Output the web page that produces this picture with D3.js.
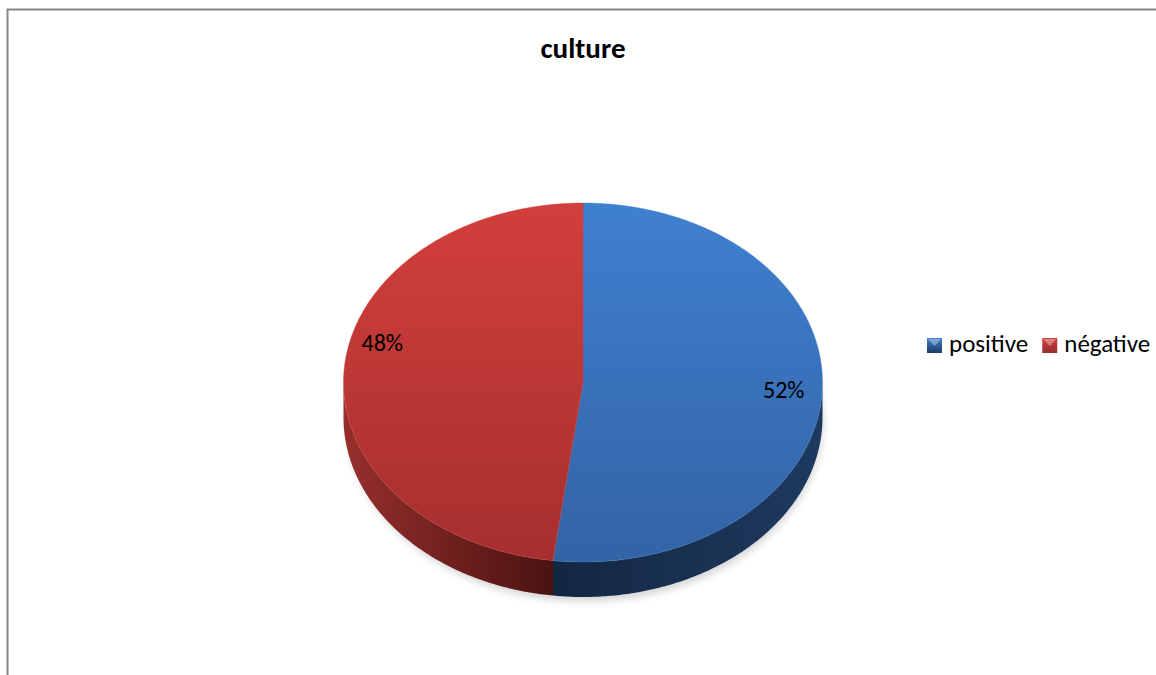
<!DOCTYPE html>
<html>
<head>
<meta charset="utf-8">
<script src="https://cdn.jsdelivr.net/npm/d3@7/dist/d3.min.js"></script>
<style>
  html, body { margin: 0; padding: 0; background: #ffffff; }
  svg { display: block; }
</style>
</head>
<body>
<svg id="chart" width="1156" height="675"></svg>
<script>
// Chart data
const title = "culture";
const categories = ["positive", "négative"];
const values = [52, 48];
const labels = ["52%", "48%"];

const W = 1156, H = 675;
const FONT = "Carlito, Calibri, Lato, 'Open Sans', sans-serif";
const svg = d3.select("#chart");
const defs = svg.append("defs");

// Outer chart frame
svg.append("rect")
  .attr("x", 7.5).attr("y", 9.5)
  .attr("width", W + 20).attr("height", H + 20)
  .attr("fill", "#fff").attr("stroke", "#868686").attr("stroke-width", 2);

// Title
svg.append("text")
  .attr("x", 583).attr("y", 58)
  .attr("text-anchor", "middle")
  .attr("font-family", FONT)
  .attr("font-weight", "bold")
  .attr("font-size", 29)
  .attr("fill", "#000")
  .text(title);

// Pie geometry (elliptical projection of a tilted disc)
const cx = 583, cy = 382.5, rx = 239.5, ry = 179.5, depth = 35;

const topColors = d3.scaleOrdinal().domain(categories).range([["#3f80d0", "#3363a5"], ["#d23f3c", "#a52f2e"]]);
const sideColors = d3.scaleOrdinal().domain(categories).range([["#1e3a60", "#132640"], ["#972f2c", "#4a1311"]]);

const pie = d3.pie().sort(null).startAngle(0).endAngle(2 * Math.PI);
const arcs = pie(values).map((d, i) => Object.assign(d, { cat: categories[i], label: labels[i] }));

const px = a => cx + rx * Math.sin(a);
const py = a => cy - ry * Math.cos(a);

// Gradients
arcs.forEach((d, i) => {
  const tg = defs.append("linearGradient").attr("id", "top" + i)
    .attr("gradientUnits", "userSpaceOnUse")
    .attr("x1", 0).attr("y1", cy - ry).attr("x2", 0).attr("y2", cy + ry);
  tg.append("stop").attr("offset", 0).attr("stop-color", topColors(d.cat)[0]);
  tg.append("stop").attr("offset", 1).attr("stop-color", topColors(d.cat)[1]);

  const sg = defs.append("linearGradient").attr("id", "side" + i)
    .attr("gradientUnits", "userSpaceOnUse");
  if (i === 0) {
    sg.attr("x1", cx + rx).attr("y1", 0).attr("x2", cx - 40).attr("y2", 0);
  } else {
    sg.attr("x1", cx - rx).attr("y1", 0).attr("x2", cx - 30).attr("y2", 0);
  }
  sg.append("stop").attr("offset", 0).attr("stop-color", sideColors(d.cat)[0]);
  sg.append("stop").attr("offset", 1).attr("stop-color", sideColors(d.cat)[1]);
});

// Soft shadow under the disc
const blur = defs.append("filter").attr("id", "shadow")
  .attr("x", "-20%").attr("y", "-20%").attr("width", "140%").attr("height", "140%");
blur.append("feGaussianBlur").attr("stdDeviation", 4);
svg.append("ellipse")
  .attr("cx", cx + 2).attr("cy", cy + depth + 4)
  .attr("rx", rx - 2).attr("ry", ry)
  .attr("fill", "#000").attr("opacity", 0.18)
  .attr("filter", "url(#shadow)");

function arcPoints(a0, a1, dy) {
  const n = Math.max(2, Math.ceil(Math.abs(a1 - a0) / 0.01));
  return d3.range(n + 1).map(k => {
    const a = a0 + (a1 - a0) * k / n;
    return [px(a), py(a) + dy];
  });
}

// Side walls (only the front half of the disc is visible)
const frontStart = Math.PI / 2, frontEnd = 3 * Math.PI / 2;
arcs.forEach((d, i) => {
  const a0 = Math.max(d.startAngle, frontStart);
  const a1 = Math.min(d.endAngle, frontEnd);
  if (a1 <= a0) return;
  const pts = arcPoints(a0, a1, 0).concat(arcPoints(a1, a0, depth));
  svg.append("path")
    .attr("d", d3.line()(pts) + "Z")
    .attr("fill", `url(#side${i})`);
});

// Top faces
arcs.forEach((d, i) => {
  const pts = [[cx, cy]].concat(arcPoints(d.startAngle, d.endAngle, 0));
  svg.append("path")
    .attr("d", d3.line()(pts) + "Z")
    .attr("fill", `url(#top${i})`)
    .attr("stroke", topColors(d.cat)[0])
    .attr("stroke-opacity", 0.5)
    .attr("stroke-width", 0.8);
});

// Percentage labels
arcs.forEach(d => {
  const mid = (d.startAngle + d.endAngle) / 2;
  const k = 0.84;
  const x = cx + rx * k * Math.sin(mid);
  let y = cy - ry * k * Math.cos(mid);
  if (Math.sin(mid) < 0) y -= 28;
  svg.append("text")
    .attr("x", x).attr("y", y + 6)
    .attr("text-anchor", "middle")
    .attr("font-family", FONT)
    .attr("font-size", 24)
    .attr("fill", "#000")
    .text(d.label);
});

// Legend
const legend = svg.append("g");
let lx = 927;
categories.forEach((c, i) => {
  const g = legend.append("g");
  const gid = "leg" + i;
  const lg = defs.append("linearGradient").attr("id", gid).attr("x1", 0).attr("y1", 0).attr("x2", 0).attr("y2", 1);
  lg.append("stop").attr("offset", 0).attr("stop-color", topColors(c)[0]);
  lg.append("stop").attr("offset", 1).attr("stop-color", sideColors(c)[0]);
  g.append("rect").attr("x", lx).attr("y", 338).attr("width", 15).attr("height", 15)
    .attr("fill", `url(#${gid})`);
  g.append("path")
    .attr("d", `M${lx + 1},${339} L${lx + 14},${339} L${lx + 7.5},${346} Z`)
    .attr("fill", "#ffffff").attr("opacity", 0.35);
  const t = g.append("text")
    .attr("x", lx + 22).attr("y", 352)
    .attr("font-family", FONT)
    .attr("font-size", 25)
    .attr("fill", "#000")
    .text(c);
  lx += 22 + t.node().getComputedTextLength() + 14;
});
</script>
</body>
</html>
